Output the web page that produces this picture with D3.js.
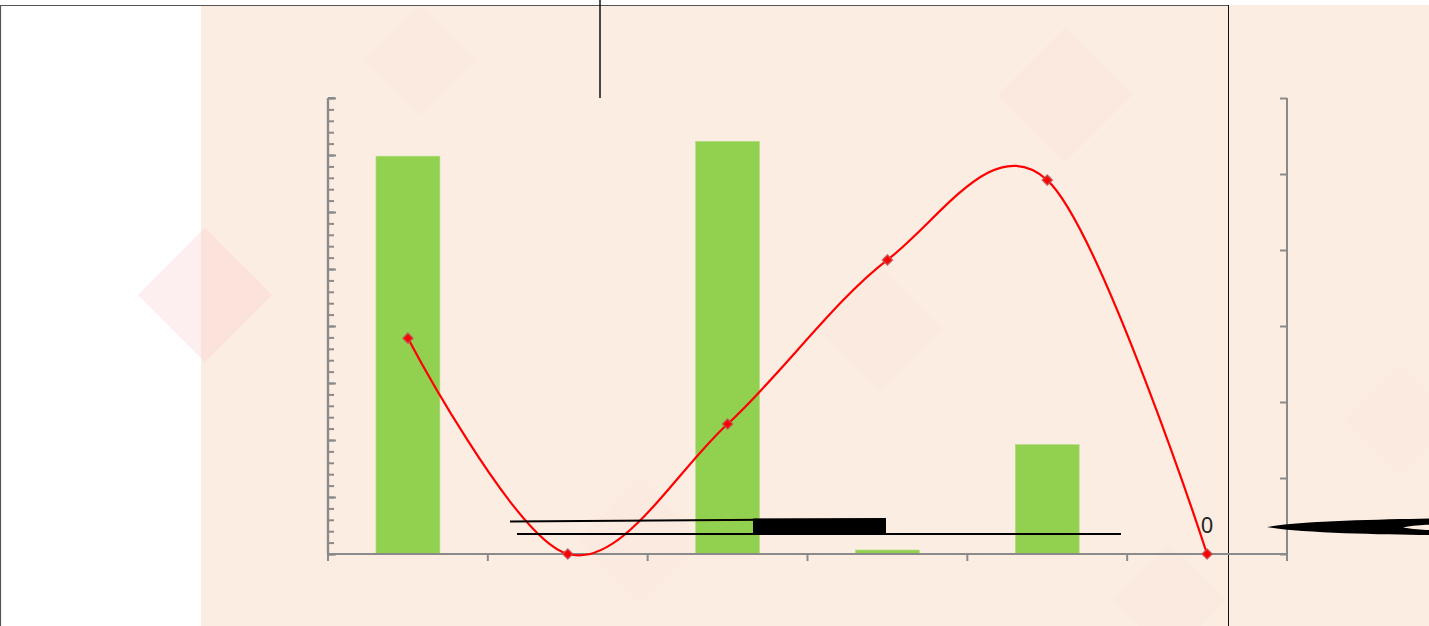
<!DOCTYPE html>
<html>
<head>
<meta charset="utf-8">
<script src="https://cdn.jsdelivr.net/npm/d3@7"></script>
<style>
  html, body { margin: 0; padding: 0; background: #fff; }
  svg { display: block; }
</style>
</head>
<body>
<svg id="chart" width="1429" height="626"></svg>
<script>
// data
const categories = ["1", "2", "3", "4", "5", "6"];
const barValues = [34.9, 0, 36.2, 0.35, 9.6, 0];
const lineValues = [2.84, 0, 1.71, 3.87, 4.92, 0];
const leftMajorTicks = [0, 5, 10, 15, 20, 25, 30, 35, 40];
const leftMinorTicks = d3.range(0, 41, 1);
const rightTicks = [0, 1, 2, 3, 4, 5, 6];
const zeroLabel = ["0"];

const svg = d3.select("#chart");
const W = 1429, H = 626;
const plot = { left: 328, right: 1287, top: 98, bottom: 554 };

// background
svg.append("rect").attr("x", 201).attr("y", 5).attr("width", W - 201).attr("height", H - 5)
  .attr("fill", "#fcede3");

// faint watermarks
const marks = [
  { x: 205, y: 295, s: 95, c: "#f7c9c9", o: 0.3 },
  { x: 1065, y: 95, s: 95, c: "#f8d6cc", o: 0.2 },
  { x: 640, y: 540, s: 90, c: "#f8d6cc", o: 0.12 },
  { x: 880, y: 330, s: 90, c: "#f8dccf", o: 0.1 },
  { x: 420, y: 60, s: 80, c: "#f8dccf", o: 0.1 },
  { x: 1170, y: 600, s: 80, c: "#f8d6cc", o: 0.12 },
  { x: 1400, y: 420, s: 80, c: "#f8d6cc", o: 0.12 }
];
marks.forEach(m => {
  svg.append("rect")
    .attr("x", -m.s / 2).attr("y", -m.s / 2).attr("width", m.s).attr("height", m.s)
    .attr("fill", m.c).attr("opacity", m.o)
    .attr("transform", "translate(" + m.x + "," + m.y + ") rotate(45)");
});

// frame lines
svg.append("line").attr("x1", 0).attr("y1", 5.5).attr("x2", 1228).attr("y2", 5.5)
  .attr("stroke", "#555").attr("stroke-width", 1.2);
svg.append("line").attr("x1", 0.5).attr("y1", 5).attr("x2", 0.5).attr("y2", H)
  .attr("stroke", "#555").attr("stroke-width", 1.2);
svg.append("line").attr("x1", 1228.5).attr("y1", 5).attr("x2", 1228.5).attr("y2", H)
  .attr("stroke", "#111").attr("stroke-width", 1);
svg.append("line").attr("x1", 600).attr("y1", 0).attr("x2", 600).attr("y2", 98)
  .attr("stroke", "#111").attr("stroke-width", 1.5);

// scales
const x = d3.scaleBand().domain(categories).range([plot.left, plot.right]).paddingInner(0).paddingOuter(0);
const yL = d3.scaleLinear().domain([0, 40]).range([plot.bottom, plot.top]);
const yR = d3.scaleLinear().domain([0, 6]).range([plot.bottom, plot.top]);
const barW = x.bandwidth() * 0.4;

// bars
svg.append("g").selectAll("rect").data(barValues).enter().append("rect")
  .attr("x", (d, i) => x(categories[i]) + (x.bandwidth() - barW) / 2)
  .attr("y", d => yL(d))
  .attr("width", barW)
  .attr("height", d => yL(0) - yL(d))
  .attr("fill", "#92d050")
  .attr("stroke", "#b5dc86").attr("stroke-width", 0.6);

// axes
const axisColor = "#8a8a8a";
const gL = svg.append("g").attr("transform", "translate(" + plot.left + ",0)");
gL.call(d3.axisRight(yL).tickValues(leftMinorTicks).tickSize(6).tickFormat(""));
gL.append("g").call(d3.axisRight(yL).tickValues(leftMajorTicks).tickSize(8).tickFormat(""));
gL.selectAll("path, line").attr("stroke", axisColor).attr("stroke-width", 2);
gL.selectAll("path").attr("d", "M0," + plot.top + "V" + plot.bottom).attr("stroke-width", 2.2);
gL.append("line").attr("x1", 0).attr("x2", 7).attr("y1", plot.top).attr("y2", plot.top)
  .attr("stroke", axisColor).attr("stroke-width", 2);

const gR = svg.append("g").attr("transform", "translate(" + plot.right + ",0)");
gR.call(d3.axisLeft(yR).tickValues(rightTicks).tickSize(7).tickFormat(""));
gR.selectAll("path").attr("d", "M0," + plot.top + "V" + plot.bottom);
gR.selectAll("path, line").attr("stroke", axisColor).attr("stroke-width", 2);

const xEdges = d3.range(categories.length + 1).map(i => plot.left + i * x.step());
const gX = svg.append("g").attr("transform", "translate(0," + plot.bottom + ")");
gX.append("line").attr("x1", plot.left).attr("x2", plot.right).attr("y1", 0).attr("y2", 0)
  .attr("stroke", axisColor).attr("stroke-width", 2);
gX.selectAll("line.tick").data(xEdges).enter().append("line").attr("class", "tick")
  .attr("x1", d => d).attr("x2", d => d).attr("y1", 0).attr("y2", 7)
  .attr("stroke", axisColor).attr("stroke-width", 2);

// smoothed line on right axis
const line = d3.line()
  .x((d, i) => x(categories[i]) + x.bandwidth() / 2)
  .y(d => yR(d))
  .curve(d3.curveCardinal.tension(0));
svg.append("path").datum(lineValues).attr("d", line)
  .attr("fill", "none").attr("stroke", "#ff0000").attr("stroke-width", 2.2);

svg.append("g").selectAll("path").data(lineValues).enter().append("path")
  .attr("d", d3.symbol(d3.symbolSquare, 50)())
  .attr("transform", (d, i) => "translate(" + (x(categories[i]) + x.bandwidth() / 2) + "," + yR(d) + ") rotate(45)")
  .attr("fill", "#ff0000").attr("stroke", "#c0505a").attr("stroke-width", 1.5).attr("stroke-opacity", 0.8);

// data label on last point
svg.append("text").text(zeroLabel[0])
  .attr("x", x(categories[5]) + x.bandwidth() / 2).attr("y", 533)
  .attr("text-anchor", "middle")
  .attr("font-family", "Noto Sans, sans-serif").attr("font-size", 22)
  .attr("fill", "#222");

// stray black strokes over the chart
svg.append("path").attr("d", "M510,521.5 L886,519")
  .attr("stroke", "#000").attr("stroke-width", 2).attr("fill", "none");
svg.append("rect").attr("x", 753).attr("y", 518.5).attr("width", 133).attr("height", 15).attr("fill", "#000");
svg.append("line").attr("x1", 517).attr("y1", 534).attr("x2", 1121).attr("y2", 534)
  .attr("stroke", "#000").attr("stroke-width", 2);
svg.append("path")
  .attr("d", "M1267,527 C1300,521 1380,519.5 1429,518.5 L1429,535 C1380,534.5 1300,533 1267,527 Z")
  .attr("fill", "#000");
svg.append("path")
  .attr("d", "M1403,527.5 C1412,525.5 1422,525 1429,524.8 L1429,530 C1422,529.8 1412,529.3 1403,527.5 Z")
  .attr("fill", "#fcede3");
</script>
</body>
</html>
